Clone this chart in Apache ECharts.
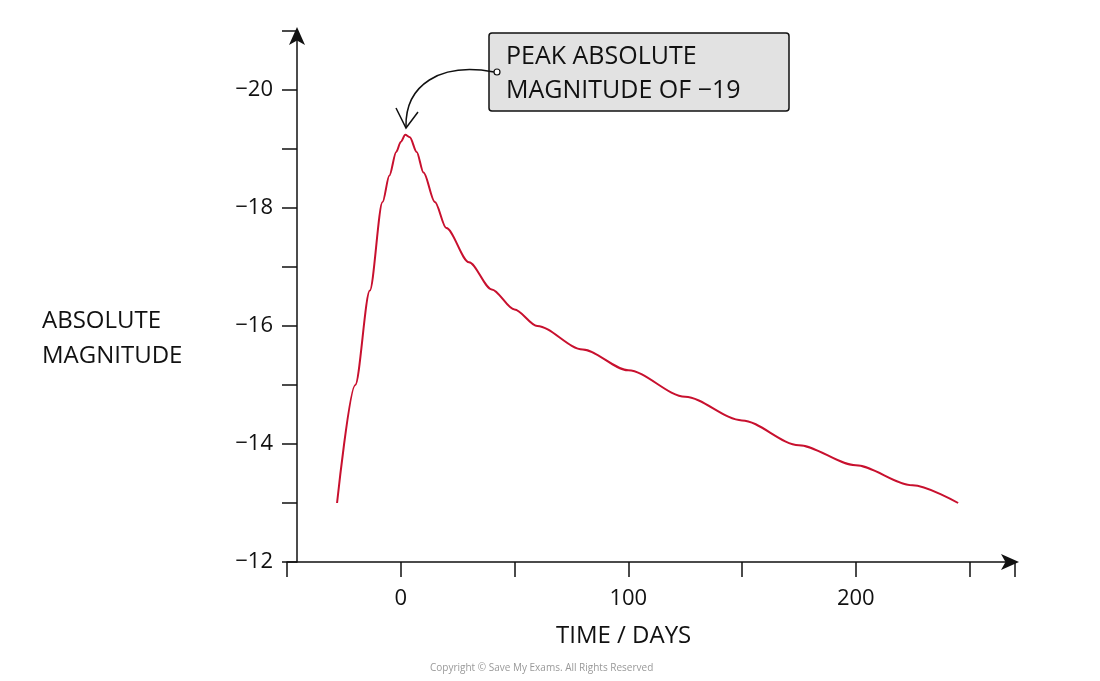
<!DOCTYPE html>
<html>
<head>
<meta charset="utf-8">
<title>Absolute magnitude</title>
<script src="https://cdn.jsdelivr.net/npm/echarts@6/dist/echarts.min.js"></script>
<style>body{margin:0;background:#fff}#chart{width:1100px;height:681px}</style>
</head>
<body>
<div id="chart"></div>
<script>
// light curve: [day, absolute magnitude]
var days = [-28, -20, -13.6, -8, -5, -2, 0, 2, 4, 7, 10, 15, 20, 30, 40, 50, 60, 80, 100, 125, 150, 175, 200, 225, 245];
var mags = [-13.0, -15.0, -16.6, -18.1, -18.55, -18.95, -19.12, -19.24, -19.2, -18.95, -18.6, -18.1, -17.66, -17.08, -16.62, -16.28, -16.0, -15.6, -15.25, -14.8, -14.4, -13.98, -13.64, -13.3, -13.0];
var xLabels = [0, 100, 200];
var yLabels = [-20, -18, -16, -14, -12];

var font = '"Open Sans", sans-serif';
var chart = echarts.init(document.getElementById('chart'));
chart.setOption({
  animation: false,
  grid: { left: 287, right: 85, top: 31, bottom: 119 },
  xAxis: {
    type: 'value', min: -50, max: 270, interval: 50,
    splitLine: { show: false },
    axisLine: { onZero: false, lineStyle: { color: '#111', width: 1.5 }, symbol: ['none', 'arrow'], symbolSize: [12, 18], symbolOffset: [0, 4] },
    axisTick: { length: 15, lineStyle: { color: '#111', width: 1.5 } },
    axisLabel: {
      fontSize: 22, color: '#111', fontFamily: font, margin: 26,
      formatter: function (v) { return xLabels.indexOf(v) >= 0 ? String(v) : ''; }
    }
  },
  yAxis: {
    type: 'value', min: -21, max: -12, interval: 1, inverse: true, offset: -10,
    splitLine: { show: false },
    axisLine: { onZero: false, lineStyle: { color: '#111', width: 1.5 }, symbol: ['none', 'arrow'], symbolSize: [12, 18], symbolOffset: [0, 4] },
    axisTick: { length: 15, lineStyle: { color: '#111', width: 1.5 } },
    axisLabel: {
      fontSize: 22, color: '#111', fontFamily: font, margin: 24,
      formatter: function (v) { return yLabels.indexOf(v) >= 0 ? '\u2212' + Math.abs(v) : ''; }
    }
  },
  series: [{
    type: 'line', smooth: 0.3, smoothMonotone: 'x', symbol: 'none',
    lineStyle: { color: '#c8102e', width: 2 },
    data: days.map(function (d, i) { return [d, mags[i]]; })
  }],
  graphic: [
    { type: 'text', left: 42, top: 304, style: { text: 'ABSOLUTE\nMAGNITUDE', fontSize: 24, lineHeight: 35, fill: '#111', fontFamily: font } },
    { type: 'text', left: 556, top: 624, style: { text: 'TIME / DAYS', fontSize: 24, fill: '#111', fontFamily: font } },
    { type: 'text', left: 430, top: 663, style: { text: 'Copyright \u00a9 Save My Exams. All Rights Reserved', fontSize: 10, fill: '#999', fontFamily: font } },
    { type: 'rect', shape: { x: 489, y: 33, width: 300, height: 78, r: 3 }, style: { fill: '#e2e2e2', stroke: '#111', lineWidth: 1.5 } },
    { type: 'text', left: 506, top: 40, style: { text: 'PEAK ABSOLUTE\nMAGNITUDE OF \u221219', fontSize: 25, lineHeight: 34, fill: '#111', fontFamily: font } },
    { type: 'circle', shape: { cx: 497, cy: 72, r: 3 }, style: { fill: '#fff', stroke: '#111', lineWidth: 1.2 } },
    { type: 'bezierCurve', shape: { x1: 494, y1: 72, cpx1: 440, cpy1: 62, cpx2: 405, cpy2: 85, x2: 406, y2: 127 }, style: { stroke: '#111', lineWidth: 1.5, fill: null } },
    { type: 'polyline', shape: { points: [[396, 108], [406, 128], [418, 112]] }, style: { stroke: '#111', lineWidth: 1.5, fill: null } }
  ]
});
</script>
</body>
</html>
